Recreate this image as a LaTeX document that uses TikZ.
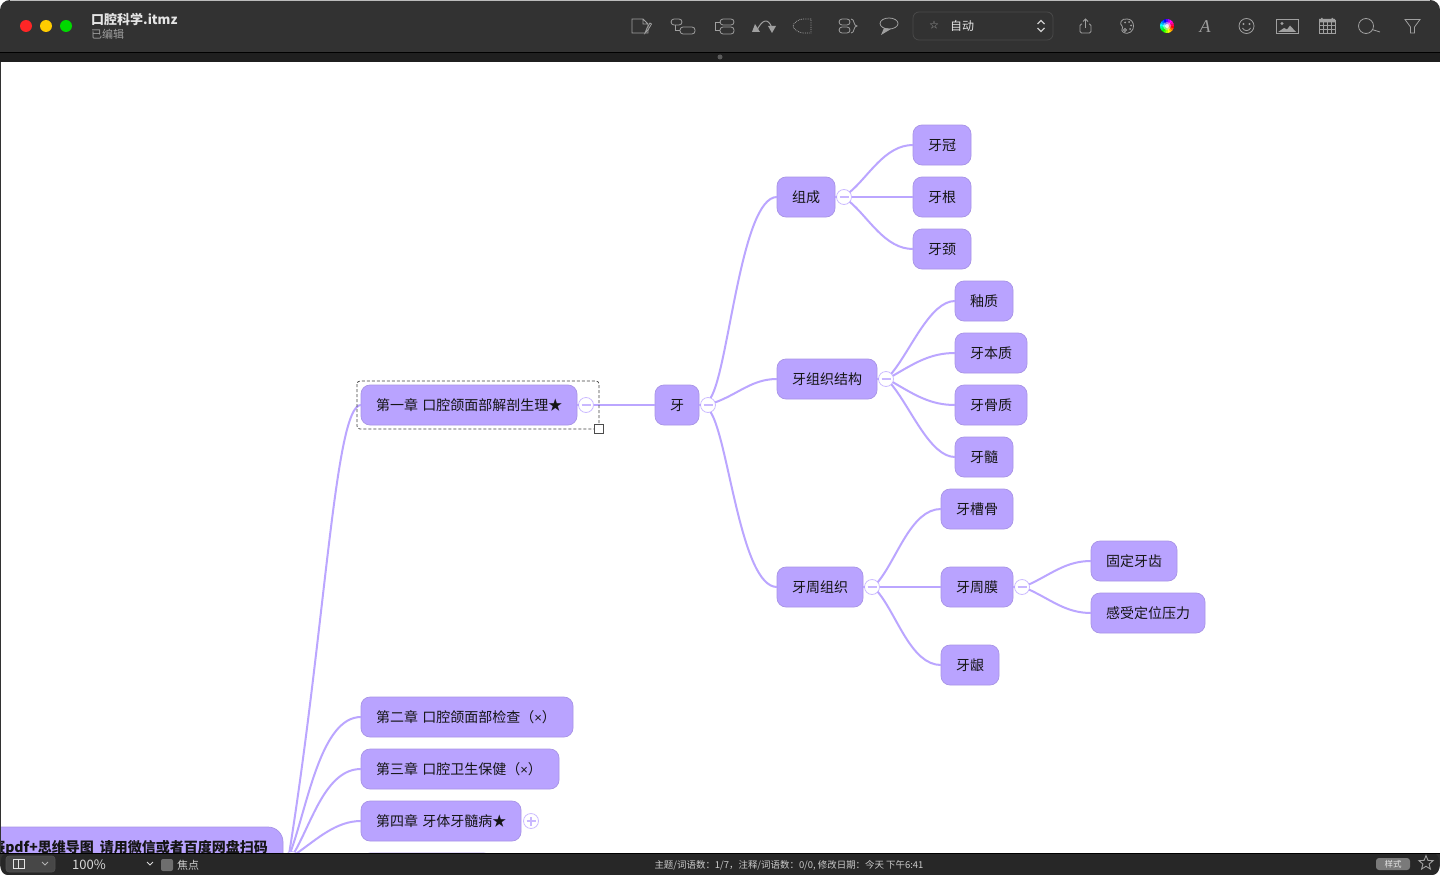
\documentclass[tikz,border=0pt]{standalone}
\usepackage{fontspec}
\usepackage{xcolor}
\setmainfont{Noto Sans CJK SC}
\newfontfamily\iconfont{Liberation Serif}
\newfontfamily\signfont{Liberation Sans}
\usepackage{tikz}
\usetikzlibrary{arrows.meta, shapes.geometric}

\definecolor{barcol}{HTML}{323232}
\definecolor{stripcol}{HTML}{1F1F1F}
\definecolor{iconcol}{HTML}{A0A0A0}
\definecolor{topiccol}{HTML}{B9A3FF}
\definecolor{edgecol}{HTML}{A894E6}
\definecolor{linkcol}{HTML}{BBA6FF}
\definecolor{inkcol}{HTML}{151515}

\newcommand{\smalltimes}{{\signfont\fontsize{13}{15}\selectfont ×}}

\tikzset{
	topicbox/.style={anchor=west, draw=edgecol, line width=0.7pt, fill=topiccol, rounded corners=9pt,
		minimum width=#1, minimum height=40pt, inner sep=0pt, outer sep=0pt, text=inkcol,
		text height=13.5pt, text depth=2.5pt, font=\fontsize{14}{16}\selectfont},
	foldminus/.style={circle, draw=linkcol!75, line width=0.8pt, fill=white, minimum size=15pt, inner sep=0pt,
		outer sep=0pt, path picture={\draw[linkcol!80, line width=1.4pt] (-4.5pt,0pt) -- (4.5pt,0pt);}},
	foldplus/.style={circle, draw=linkcol!75, line width=0.8pt, fill=white, minimum size=15pt, inner sep=0pt,
		outer sep=0pt, path picture={\draw[linkcol!80, line width=1.2pt] (-4.5pt,0pt) -- (4.5pt,0pt) (0pt,-4.5pt) -- (0pt,4.5pt);}},
	link/.style={draw=linkcol, line width=2pt},
	icon/.style={draw=iconcol, line width=0.8pt},
	bartext/.style={inner sep=0pt, text=#1},
}

\begin{document}
\begin{tikzpicture}[x=1pt, y=-1pt]
	\useasboundingbox (0,0) rectangle (1440,875);

	% Window
	\fill[white] (0,0) rectangle (1440,875);
	\fill[barcol, rounded corners=10pt] (0,0) rectangle (1440,875);
	\draw[iconcol!70, line width=0.8pt] (10,0.5) -- (1430,0.5);
	\fill[stripcol] (0,53) rectangle (1440,62);
	\fill[black] (0,52) rectangle (1440,53);
	\fill[barcol!80] (720,57) circle (2.5);
	\fill[white] (1,62) rectangle (1440,853);

	% Canvas
	\begin{scope}
		\clip (1,62) rectangle (1440,853);

		% Root
		\node[topicbox=320pt, rounded corners=15pt, minimum height=56pt] (root) at (-37,855) {};
		\node[anchor=east, inner sep=0pt, text=inkcol, font=\fontsize{14}{16}\selectfont\bfseries] (roottext) at (268,847.5) {赛pdf+思维导图\hspace{6pt}请用微信或者百度网盘扫码};
		\node[foldminus] (rootfold) at (292,859) {};

		% Chapters
		\node[topicbox=216pt] (ch1) at (361,405) {\makebox[186pt][l]{第一章\hspace{4.3pt}口腔颌面部解剖生理★}};
		\node[topicbox=212pt] (ch2) at (361,717) {\makebox[182pt][l]{第二章\hspace{4.3pt}口腔颌面部检查（\smalltimes）}};
		\node[topicbox=198pt] (ch3) at (361,769) {\makebox[168pt][l]{第三章\hspace{4.3pt}口腔卫生保健（\smalltimes）}};
		\node[topicbox=160pt] (ch4) at (361,821) {\makebox[130pt][l]{第四章\hspace{4.3pt}牙体牙髓病★}};
		\node[topicbox=132pt] (ch5) at (361,873) {};
		\node[foldminus] (ch1fold) at (586,405) {};
		\node[foldplus] (ch4fold) at (531,821) {};

		% Tooth
		\node[topicbox=44pt] (tooth) at (655,405) {牙};
		\node[foldminus] (toothfold) at (708,405) {};

		% Second level
		\node[topicbox=58pt] (parts) at (777,197) {组成};
		\node[topicbox=100pt] (tissue) at (777,379) {牙组织结构};
		\node[topicbox=86pt] (perio) at (777,587) {牙周组织};
		\node[foldminus] (partsfold) at (844,197) {};
		\node[foldminus] (tissuefold) at (886,379) {};
		\node[foldminus] (periofold) at (872,587) {};

		% Third level
		\node[topicbox=58pt] (crown) at (913,145) {牙冠};
		\node[topicbox=58pt] (root1) at (913,197) {牙根};
		\node[topicbox=58pt] (neck) at (913,249) {牙颈};
		\node[topicbox=58pt] (enamel) at (955,301) {釉质};
		\node[topicbox=72pt] (dentin) at (955,353) {牙本质};
		\node[topicbox=72pt] (cement) at (955,405) {牙骨质};
		\node[topicbox=58pt] (pulp) at (955,457) {牙髓};
		\node[topicbox=72pt] (alveolar) at (941,509) {牙槽骨};
		\node[topicbox=72pt] (ligament) at (941,587) {牙周膜};
		\node[topicbox=58pt] (gum) at (941,665) {牙龈};
		\node[foldminus] (ligfold) at (1022,587) {};

		% Fourth level
		\node[topicbox=86pt] (fix) at (1091,561) {固定牙齿};
		\node[topicbox=114pt] (sense) at (1091,613) {感受定位压力};

		% Links
		\draw[link] (rootfold.110) to[out=81, in=180, out distance=234pt, in distance=26pt] (ch1.west);
		\draw[link] (rootfold.100) to[out=70, in=180, out distance=50pt, in distance=40pt] (ch2.west);
		\draw[link] (rootfold.70) to[out=60, in=180, out distance=35pt, in distance=35pt] (ch3.west);
		\draw[link] (rootfold.50) to[out=35, in=180, out distance=25pt, in distance=25pt] (ch4.west);
		\draw[link] (ch1.east) -- (ch1fold.west);
		\draw[link] (ch1fold.east) -- (tooth.west);
		\draw[link] (tooth.east) -- (toothfold.west);
		\draw[link] (toothfold.70) to[out=57, in=180, out distance=33pt, in distance=36pt] (parts.west);
		\draw[link] (toothfold.20) to[out=20, in=180, out distance=25pt, in distance=25pt] (tissue.west);
		\draw[link] (toothfold.-70) to[out=-57, in=180, out distance=33pt, in distance=36pt] (perio.west);
		\draw[link] (parts.east) -- (partsfold.west);
		\draw[link] (partsfold.40) to[out=40, in=180, out distance=25pt, in distance=28pt] (crown.west);
		\draw[link] (partsfold.east) -- (root1.west);
		\draw[link] (partsfold.-40) to[out=-40, in=180, out distance=25pt, in distance=28pt] (neck.west);
		\draw[link] (tissue.east) -- (tissuefold.west);
		\draw[link] (tissuefold.45) to[out=50, in=180, out distance=30pt, in distance=25pt] (enamel.west);
		\draw[link] (tissuefold.25) to[out=30, in=180, out distance=25pt, in distance=25pt] (dentin.west);
		\draw[link] (tissuefold.-25) to[out=-30, in=180, out distance=25pt, in distance=25pt] (cement.west);
		\draw[link] (tissuefold.-45) to[out=-50, in=180, out distance=30pt, in distance=25pt] (pulp.west);
		\draw[link] (perio.east) -- (periofold.west);
		\draw[link] (periofold.40) to[out=50, in=180, out distance=30pt, in distance=30pt] (alveolar.west);
		\draw[link] (periofold.east) -- (ligament.west);
		\draw[link] (periofold.-40) to[out=-50, in=180, out distance=30pt, in distance=30pt] (gum.west);
		\draw[link] (ligament.east) -- (ligfold.west);
		\draw[link] (ligfold.20) to[out=25, in=180, out distance=25pt, in distance=25pt] (fix.west);
		\draw[link] (ligfold.-20) to[out=-25, in=180, out distance=25pt, in distance=25pt] (sense.west);

		% Selection
		\draw[black!75, dash pattern=on 3pt off 2pt, line width=0.7pt, rounded corners=3pt] (357,381) rectangle (599,429);
		\node[draw=black!70, fill=white, line width=0.8pt, minimum size=8.5pt, inner sep=0pt] (handle) at (599,429) {};
	\end{scope}

	% Title and traffic lights
	\fill[red!85!white] (26,26) circle (6);
	\fill[orange!40!yellow] (46,26) circle (6);
	\fill[green!85!black] (66,26) circle (6);
	\node[anchor=west, bartext=white!90!black, font=\fontsize{13}{15}\selectfont\bfseries] (title) at (91,19.5) {口腔科学.itmz};
	\node[anchor=west, bartext=iconcol, font=\fontsize{11}{13}\selectfont] (status) at (91,34) {已编辑};

	% Note icon
	\draw[icon] (632,19) -- (643,19) -- (648,24) -- (648,33) -- (632,33) -- cycle (643,19) -- (643,24) -- (648,24);
	\draw[icon] (645,33) -- (647,28) -- (650,23) -- (651.5,24) -- (648,30) -- cycle;

	% Topic icons
	\draw[icon, rounded corners=3pt] (671,19) rectangle (682,25) (680,27) rectangle (695,34);
	\draw[icon] (675,25) -- (675,30) -- (680,30);
	\draw[icon, rounded corners=3pt] (720,19) rectangle (734,25) (720,27) rectangle (734,34);
	\draw[icon] (720,22) -- (715,22) -- (715,30) -- (720,30);

	% Relation icon
	\draw[icon, line width=1pt] (757,30) .. controls (762,20) and (768,17) .. (772,28);
	\fill[iconcol] (752,32) -- (760,32) -- (755,24) -- cycle (768,26) -- (776,26) -- (772,33) -- cycle;

	% Boundary icon
	\draw[icon, densely dotted] (811,19) -- (803,19) .. controls (799,19) and (793,23) .. (793,26) .. controls (793,29) and (799,33) .. (803,33) -- (811,33) -- cycle;

	% Summary icon
	\draw[icon, rounded corners=3pt] (839,19) rectangle (850,25) (839,27) rectangle (850,33);
	\draw[icon] (851,19) .. controls (855,19) and (853,26) .. (857,26) .. controls (853,26) and (855,33) .. (851,33);

	% Callout icon
	\draw[icon] (889,23.5) ellipse (9 and 5.5);
	\fill[iconcol] (884,28) -- (881,35) -- (891,29) -- cycle;

	% Style selector
	\draw[white!12!barcol, line width=0.7pt, fill=barcol, rounded corners=6pt] (913,12) rectangle (1053,40);
	\node[bartext=iconcol, font=\fontsize{9}{10}\selectfont] (stylestar) at (934,25) {☆};
	\node[anchor=west, bartext=white!90!black, font=\fontsize{12}{14}\selectfont] (stylename) at (950,25.5) {自动};
	\draw[white!80!black, line width=1.1pt] (1037.5,24) -- (1041,20.5) -- (1044.5,24) (1037.5,28) -- (1041,31.5) -- (1044.5,28);

	% Share icon
	\draw[icon, rounded corners=1.5pt] (1082,24) -- (1080,24) -- (1080,33) -- (1091,33) -- (1091,24) -- (1089,24);
	\draw[icon] (1085.5,28) -- (1085.5,19) (1083,21.5) -- (1085.5,19) -- (1088,21.5);

	% Palette icon
	\draw[icon] (1127,19) .. controls (1121,18) and (1119,24) .. (1122,26) .. controls (1124,28) and (1120,30) .. (1123,32) .. controls (1129,36) and (1134,30) .. (1133.5,26) .. controls (1133.5,22) and (1131,19) .. (1127,19);
	\fill[iconcol] (1125,22.5) circle (1) (1129,22) circle (1) (1131,25.5) circle (1) (1130,29) circle (1);
	\draw[icon] (1125,30) circle (1.5);

	% Colour wheel
	\foreach \hue in {0,20,...,340} {
		\pgfmathsetmacro{\huefrac}{\hue/360}
		\definecolor{wedgecol}{hsb}{\huefrac,1,1}
		\fill[wedgecol] (1167,26) -- +(\hue:7) arc[start angle=\hue, delta angle=21, radius=7] -- cycle;
	}
	\fill[white, opacity=0.45] (1167,26) circle (4);
	\fill[white, opacity=0.8] (1167,26) circle (2);

	% Font icon
	\node[bartext=iconcol, font=\fontsize{18}{20}\iconfont\itshape] (fonticon) at (1205,27) {A};

	% Smiley icon
	\draw[icon] (1246.5,26) circle (7.5);
	\fill[iconcol] (1243.5,24) circle (1.2) (1249.5,24) circle (1.2);
	\draw[icon] (1242.5,28) .. controls (1244,31.5) and (1249,31.5) .. (1250.5,28);

	% Image icon
	\draw[icon] (1276,19.5) rectangle (1298,33.5);
	\fill[iconcol] (1282,23.5) circle (1.7);
	\fill[iconcol] (1278,32) -- (1284,28) -- (1287,29.5) -- (1290,25.5) -- (1296,32) -- cycle;

	% Table icon
	\draw[icon] (1319,20) rectangle (1335,33.5);
	\fill[iconcol] (1319,19) rectangle (1335,22.5) (1321,18) rectangle (1322.5,20) (1331.5,18) rectangle (1333,20);
	\draw[iconcol, line width=0.6pt] (1323,22) -- (1323,33.5) (1327,22) -- (1327,33.5) (1331,22) -- (1331,33.5)
		(1319,25) -- (1335,25) (1319,29) -- (1335,29);

	% Search icon
	\draw[icon] (1366,26) circle (7.5);
	\draw[icon] (1372,29.5) -- (1380,32);

	% Filter icon
	\draw[icon] (1405,19.5) -- (1420,19.5) -- (1414.5,27) -- (1414.5,33) -- (1410.5,33) -- (1410.5,27) -- cycle;

	% Bottom bar
	\fill[stripcol!60!barcol, rounded corners=7pt] (1,853) rectangle (1439,875);
	\fill[black] (0,852.6) rectangle (1440,853.6);
	\draw[white!15!barcol, fill=white!10!barcol, line width=0.6pt, rounded corners=3pt] (6,856) rectangle (55,872);
	\draw[white!90!black, line width=0.8pt] (13,859.5) rectangle (24,868.5) (18,859.5) -- (18,868.5);
	\draw[white!70!black, line width=0.9pt] (42,862) -- (45,865) -- (48,862);
	\node[anchor=west, bartext=white!85!black, font=\fontsize{13}{15}\selectfont] (zoomlevel) at (72,864.5) {100\%};
	\draw[white!85!black, line width=1pt] (147,862) -- (150,865) -- (153,862);
	\fill[iconcol!55!barcol, rounded corners=2pt] (161,859) rectangle (173,871);
	\node[anchor=west, bartext=white!80!black, font=\fontsize{11}{13}\selectfont] (focus) at (177,865) {焦点};
	\node[bartext=white!80!black, font=\fontsize{9.45}{11}\selectfont] (wordcount) at (789,865) {主题/词语数：1/7，注释/词语数：0/0, 修改日期：今天 下午6:41};
	\node[fill=white!35!barcol, rounded corners=3pt, minimum width=34pt, minimum height=12pt, inner sep=0pt, text=white!90!black, font=\fontsize{8.5}{10}\selectfont] (stylebtn) at (1393,864) {样式};
	\node[star, star points=5, star point ratio=2.3, draw=iconcol, line width=0.9pt, minimum size=15pt, inner sep=0pt] (favstar) at (1426,863) {};
\end{tikzpicture}
\end{document}
